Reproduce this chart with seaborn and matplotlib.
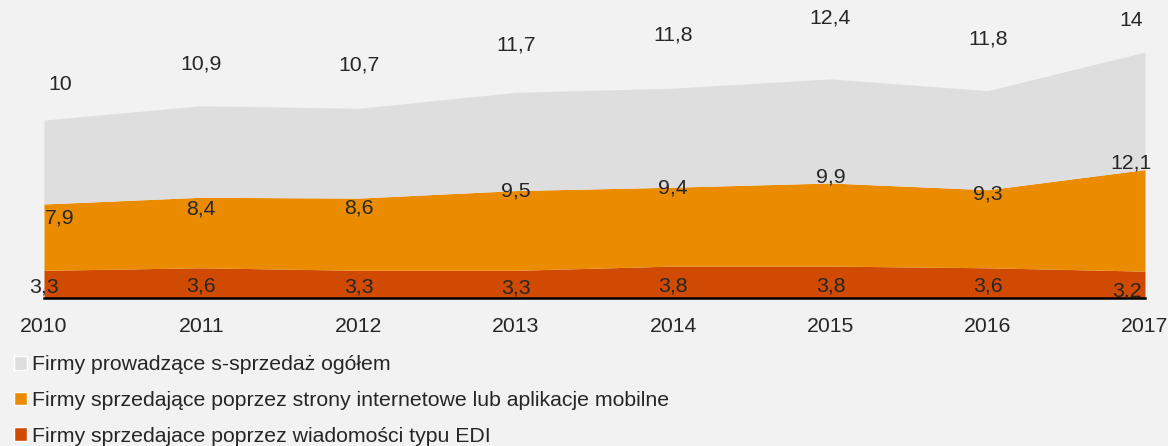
import numpy as np
import matplotlib
matplotlib.use('Agg')
import matplotlib.pyplot as plt
from matplotlib.patches import Patch
import seaborn as sns

years = ['2010', '2011', '2012', '2013', '2014', '2015', '2016', '2017']
ogolem = [10, 10.9, 10.7, 11.7, 11.8, 12.4, 11.8, 14]
www_mobile = [7.9, 8.4, 8.6, 9.5, 9.4, 9.9, 9.3, 12.1]
edi = [3.3, 3.6, 3.3, 3.3, 3.8, 3.8, 3.6, 3.2]

names = ['Firmy prowadzące s-sprzedaż ogółem',
         'Firmy sprzedające poprzez strony internetowe lub aplikacje mobilne',
         'Firmy sprzedajace poprzez wiadomości typu EDI']
colors = {'gray': '#dedede', 'orange': '#eb8c00', 'red': '#d04a02'}
bg = '#f2f2f2'
fs = 15.3

# label placement (offsets from the top of each band, data units) - just layout
gray_dy = [4.2, 5.0, 5.1, 5.6, 6.3, 7.3, 6.1, 3.7]
orange_dy = [-1.7, -1.4, -1.2, -0.1, -0.1, 0.7, -0.5, 0.8]
red_y = [1.3, 1.4, 1.3, 1.2, 1.4, 1.4, 1.4, 0.8]
x_shift = [16, 0, 0, 0, 0, 0, 0, -14]

sns.set_style('white')
plt.rcParams['font.family'] = ['Liberation Sans', 'DejaVu Sans']

fig = plt.figure(figsize=(11.68, 4.46), dpi=100, facecolor=bg)
ax = fig.add_axes([44/1168, 1 - 298/446, (1145-44)/1168, 298/446])
ax.set_facecolor(bg)

x = np.arange(len(years))
ax.stackplot(x, edi, www_mobile, ogolem,
             colors=[colors['red'], colors['orange'], colors['gray']], linewidth=0)

ax.set_xlim(0, len(years) - 1)
ax.set_ylim(0, 35.5)
ax.set_yticks([])
ax.set_xticks(x)
ax.set_xticklabels(years, fontsize=fs)
ax.tick_params(axis='x', length=0, pad=14)
sns.despine(ax=ax, left=True, right=True, top=True)
ax.spines['bottom'].set_color('black')
ax.spines['bottom'].set_linewidth(1.8)

top_red = np.array(edi)
top_orange = top_red + np.array(www_mobile)
top_gray = top_orange + np.array(ogolem)

def fmt(v):
    return ('%g' % v).replace('.', ',')

for i in range(len(years)):
    dx = x_shift[i]
    ax.annotate(fmt(ogolem[i]), (x[i], top_gray[i] + gray_dy[i]), xytext=(dx, 0),
                textcoords='offset pixels', ha='center', va='center', fontsize=fs, clip_on=False)
    ax.annotate(fmt(www_mobile[i]), (x[i], top_orange[i] + orange_dy[i]), xytext=(dx, 0),
                textcoords='offset pixels', ha='center', va='center', fontsize=fs, clip_on=False)
    rdx = -18 if i == len(years) - 1 else 0
    ax.annotate(fmt(edi[i]), (x[i], red_y[i]), xytext=(rdx, 0),
                textcoords='offset pixels', ha='center', va='center', fontsize=fs, clip_on=False)

handles = [Patch(facecolor=colors['gray']), Patch(facecolor=colors['orange']),
           Patch(facecolor=colors['red'])]
fig.legend(handles, names, loc='upper left', bbox_to_anchor=(0.005, 1 - 347/446),
           frameon=False, fontsize=fs, handlelength=0.6, handleheight=0.6,
           handletextpad=0.25, labelspacing=0.78, borderaxespad=0)

fig.savefig('out.png', dpi=100, facecolor=bg)
